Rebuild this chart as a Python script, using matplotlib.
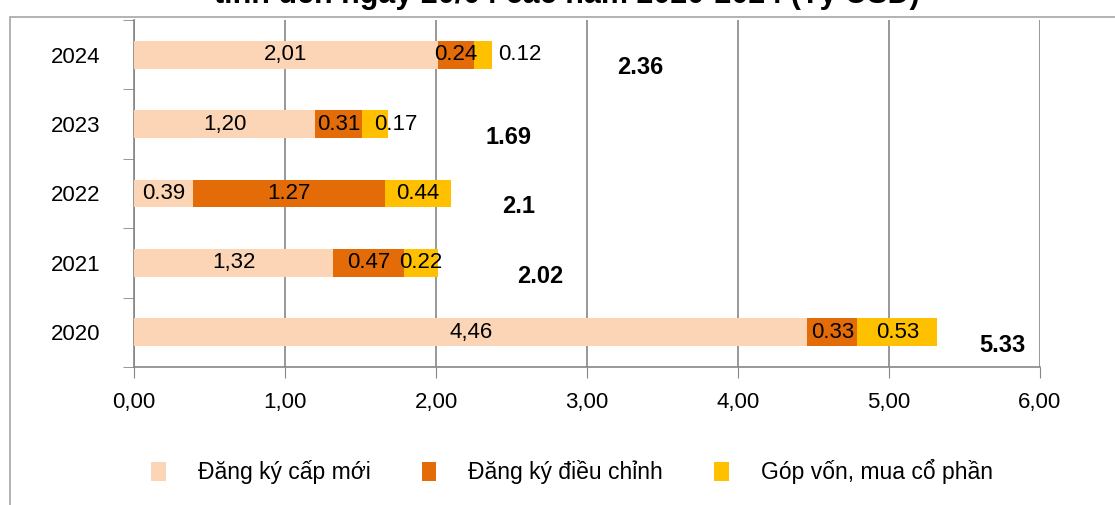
import matplotlib.pyplot as plt
import numpy as np
from matplotlib.patches import Rectangle

years = ["2020", "2021", "2022", "2023", "2024"]
dang_ky_moi = [4.46, 1.32, 0.39, 1.20, 2.01]
dieu_chinh = [0.33, 0.47, 1.27, 0.31, 0.24]
gop_von = [0.53, 0.22, 0.44, 0.17, 0.12]
totals = ["5.33", "2.02", "2.1", "1.69", "2.36"]
moi_labels = ["4,46", "1,32", "0.39", "1,20", "2,01"]

# where the bold totals sit (x in data units), as in the source chart
total_label_x = [5.75, 2.69, 2.55, 2.48, 3.35]

C_MOI = "#FBD5B5"
C_DC = "#E36C09"
C_GV = "#FFC000"
GRID = "#868686"

plt.rcParams["font.family"] = ["Liberation Sans", "DejaVu Sans"]

fig = plt.figure(figsize=(11.15, 5.05), dpi=100)
ax = fig.add_axes([0.1202, 0.2733, 0.8125, 0.6871])

# outer chart frame, partly off the canvas like the screenshot
fig.patches.append(Rectangle((10 / 1115, -0.1), 1.2, 1 - 17 / 505 + 0.1,
                             transform=fig.transFigure, fill=False,
                             edgecolor="#a6a6a6", linewidth=1.2))
fig.text(0.508, 1 - 3 / 505, "tính đến ngày 20/04 các năm 2020-2024 (Tỷ USD)",
         ha="center", va="baseline", fontsize=22, fontweight="bold")

y = np.arange(len(years))
h = 0.4
moi = np.array(dang_ky_moi)
dc = np.array(dieu_chinh)
gv = np.array(gop_von)

ax.barh(y, moi, height=h, color=C_MOI, label="Đăng ký cấp mới", zorder=3)
ax.barh(y, dc, left=moi, height=h, color=C_DC, label="Đăng ký điều chỉnh", zorder=3)
ax.barh(y, gv, left=moi + dc, height=h, color=C_GV, label="Góp vốn, mua cổ phần", zorder=3)

fs = 16
for i in range(len(years)):
    ax.text(moi[i] / 2, y[i], moi_labels[i], ha="center", va="center", fontsize=fs, zorder=4)
    ax.text(moi[i] + dc[i] / 2, y[i], f"{dc[i]:.2f}", ha="center", va="center", fontsize=fs, zorder=4)
    end = moi[i] + dc[i] + gv[i]
    if gv[i] < 0.15:
        ax.text(end + 0.04, y[i], f"{gv[i]:.2f}", ha="left", va="center", fontsize=fs, zorder=4)
    elif gv[i] < 0.2:
        ax.text(end - 0.09, y[i], f"{gv[i]:.2f}", ha="left", va="center", fontsize=fs, zorder=4)
    else:
        ax.text(end - gv[i] / 2, y[i], f"{gv[i]:.2f}", ha="center", va="center", fontsize=fs, zorder=4)
    ax.text(total_label_x[i], y[i] - 0.19, totals[i], ha="center", va="center",
            fontsize=fs + 1, fontweight="bold", zorder=4)

ax.set_xlim(0, 6)
ax.set_ylim(-0.5, len(years) - 0.5)
ax.set_xticks(np.arange(0, 6.01, 1))
ax.set_xticklabels([f"{v:.2f}".replace(".", ",") for v in np.arange(0, 6.01, 1)], fontsize=fs)
ax.set_yticks(y)
ax.set_yticklabels(years, fontsize=fs)
ax.tick_params(axis="y", length=0, pad=24)
ax.set_yticks(np.arange(-0.5, len(years), 1), minor=True)
ax.tick_params(axis="y", which="minor", length=8, color=GRID, direction="out")
ax.tick_params(axis="x", length=8, color=GRID, pad=10)

ax.grid(axis="x", color=GRID, linewidth=1.2, zorder=0)
for s in ["top", "right"]:
    ax.spines[s].set_visible(False)
ax.spines["left"].set_color(GRID)
ax.spines["bottom"].set_color(GRID)
ax.spines["left"].set_linewidth(1.2)
ax.spines["bottom"].set_linewidth(1.2)

leg = fig.legend(loc="center", bbox_to_anchor=(0.513, 1 - 472 / 505), ncol=3, frameon=False,
                 fontsize=fs + 0.5, handlelength=0.65, handleheight=0.9, columnspacing=2.2,
                 handletextpad=1.4)

fig.savefig("out.png", dpi=100)
